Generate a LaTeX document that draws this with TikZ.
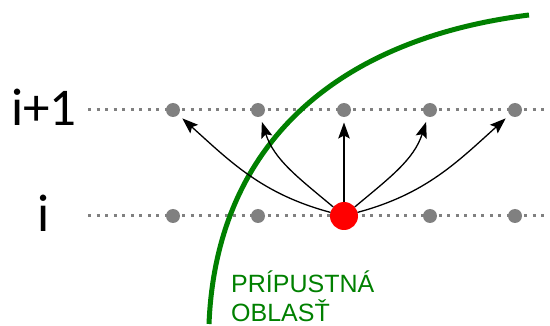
\documentclass[tikz,border=0pt]{standalone}
\usepackage{fontspec}
\setmainfont{Carlito}
\newfontfamily\arialfont{Liberation Sans}
\usetikzlibrary{arrows.meta}
\definecolor{dgreen}{RGB}{0,128,0}
\definecolor{dotgray}{RGB}{128,128,128}
\begin{document}
\begin{tikzpicture}[x=1pt,y=-1pt,
  gdot/.style={circle,fill=dotgray,minimum size=14pt,inner sep=0pt,outer sep=0pt},
  rdot/.style={circle,fill=red,minimum size=28pt,inner sep=0pt,outer sep=0pt},
  rowline/.style={dotgray,line width=3pt,dash pattern=on 3pt off 5.55pt},
  arr/.style={line width=1.3pt,-{Stealth[length=16pt,width=11.5pt,inset=3pt]},shorten >=5.5pt},
  lbl/.style={inner sep=0pt,anchor=base,font=\fontsize{53}{60}\selectfont}]
\useasboundingbox (0,0) rectangle (550,326);
% row lines
\coordinate (l1a) at (88,110); \coordinate (l1b) at (546,110);
\coordinate (l0a) at (88,216); \coordinate (l0b) at (546,216);
\draw[rowline] (l1a) -- (l1b);
\draw[rowline] (l0a) -- (l0b);
% labels
\node[lbl] (lab1) at (44,126) {i+1};
\node[lbl] (lab0) at (44,232) {i};
% dots
\foreach \n/\x in {1/173,2/258,3/344,4/430,5/515} {
  \node[gdot] (u\n) at (\x,110) {};
}
\foreach \n/\x in {1/173,2/258,4/430,5/515} {
  \node[gdot] (d\n) at (\x,216) {};
}
% green boundary
\coordinate (g0) at (209,324);
\coordinate (g1) at (529,15);
\draw[dgreen,line width=5pt] (g0) .. controls (216,150) and (330,40) .. (g1);
% red node
\node[rdot] (r) at (344,216) {};
% arrows
\draw[arr] (r) to[out=165,in=-42] (u1);
\draw[arr] (r) to[out=140,in=-72] (u2);
\draw[arr] (r) -- (u3);
\draw[arr] (r) to[out=40,in=-108] (u4);
\draw[arr] (r) to[out=15,in=-138] (u5);
% region label
\node[inner sep=0pt,anchor=base west,text=dgreen,font=\arialfont\fontsize{25}{29}\selectfont,align=left] (reg) at (231,322) {PRÍPUSTNÁ\\OBLASŤ};
\end{tikzpicture}
\end{document}
